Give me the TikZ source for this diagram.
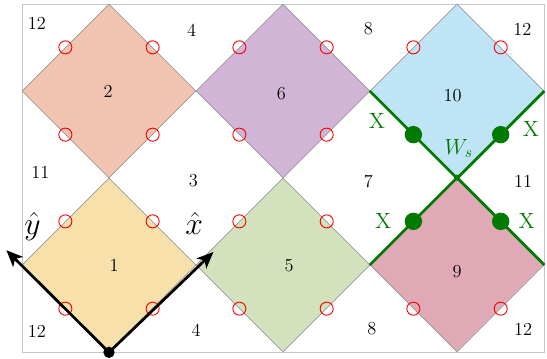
\documentclass[tikz,border=0pt]{standalone}
\usetikzlibrary{shapes.geometric,arrows.meta,calc}
\definecolor{cTwo}{HTML}{F1C3B1}
\definecolor{cSix}{HTML}{D1B5D7}
\definecolor{cTen}{HTML}{BEE4F6}
\definecolor{cOne}{HTML}{F8E0AA}
\definecolor{cFive}{HTML}{D3E1BD}
\definecolor{cNine}{HTML}{DFAAB6}
\definecolor{wgreen}{RGB}{0,122,0}
\begin{document}
\begin{tikzpicture}[x=2cm,y=2cm,
  cell/.style={diamond,aspect=1,draw=gray!80,line width=0.4pt,minimum width=4cm,minimum height=4cm,inner sep=0pt},
  ring/.style={circle,draw=red,line width=0.6pt,minimum size=0.3cm,inner sep=0pt},
  gdot/.style={circle,fill=wgreen,minimum size=0.4cm,inner sep=0pt},
  gsmall/.style={circle,fill=wgreen,minimum size=0.14cm,inner sep=0pt},
  num/.style={font=\fontsize{12}{14}\selectfont,inner sep=0pt},
  glab/.style={text=wgreen,font=\Large,inner sep=0pt},
  hatlab/.style={font=\fontsize{20}{24}\selectfont,inner sep=0pt,anchor=base},
  wline/.style={draw=wgreen,line width=1.8pt,line join=round},
  axis/.style={draw=black,line width=1.8pt,-{Stealth[length=0.38cm,width=0.32cm,inset=0.1cm]}}]
\useasboundingbox (-0.253,-0.069) rectangle (6.034,4.046);
\draw[gray!45,line width=0.6pt] (0,0) rectangle (6,4);
% cells
\node[cell,fill=cTwo]  (d2)  at (1,3) {};
\node[cell,fill=cSix]  (d6)  at (3,3) {};
\node[cell,fill=cTen]  (d10) at (5,3) {};
\node[cell,fill=cOne]  (d1)  at (1,1) {};
\node[cell,fill=cFive] (d5)  at (3,1) {};
\node[cell,fill=cNine] (d9)  at (5,1) {};
% red rings at edge midpoints
\foreach \c in {d2,d6,d1,d5}{
  \node[ring] at ($(\c.north)!0.5!(\c.west)$) {};
  \node[ring] at ($(\c.north)!0.5!(\c.east)$) {};
  \node[ring] at ($(\c.south)!0.5!(\c.west)$) {};
  \node[ring] at ($(\c.south)!0.5!(\c.east)$) {};
}
\node[ring] at ($(d10.north)!0.5!(d10.west)$) {};
\node[ring] at ($(d10.north)!0.5!(d10.east)$) {};
\node[ring] at ($(d9.south)!0.5!(d9.west)$) {};
\node[ring] at ($(d9.south)!0.5!(d9.east)$) {};
% green W_s
\draw[wline] (d10.west) -- (d10.south) -- (d10.east);
\draw[wline] (d9.west) -- (d9.north) -- (d9.east);
\node[gdot] (g1) at ($(d10.west)!0.5!(d10.south)$) {};
\node[gdot] (g2) at ($(d10.east)!0.5!(d10.south)$) {};
\node[gdot] (g3) at ($(d9.west)!0.5!(d9.north)$) {};
\node[gdot] (g4) at ($(d9.east)!0.5!(d9.north)$) {};
\node[gsmall] (gc) at (d9.north) {};
\node[glab] (x1) at (4.08,2.65) {X};
\node[glab] (x2) at (5.85,2.56) {X};
\node[glab] (x3) at (4.15,1.51) {X};
\node[glab] (x4) at (5.80,1.51) {X};
\node[glab] (ws) at (5.02,2.34) {$W_s$};
% axes
\coordinate (o) at (d1.south);
\coordinate (ytip) at (-0.18,1.17);
\coordinate (xtip) at (2.20,1.15);
\draw[axis] (o) -- (ytip);
\draw[axis] (o) -- (xtip);
\node[circle,fill=black,minimum size=0.26cm,inner sep=0pt] (od) at (o) {};
\node[hatlab] (yh) at (0.12,1.35) {$\hat{y}$};
\node[hatlab] (xh) at (1.98,1.35) {$\hat{x}$};
% cell numbers
\node[num] (l2)  at (0.99,3.00) {2};
\node[num] (l6)  at (2.98,2.97) {6};
\node[num] (l10) at (4.95,2.95) {10};
\node[num] (l1)  at (1.06,0.99) {1};
\node[num] (l5)  at (3.07,0.99) {5};
\node[num] (l9)  at (5.00,0.93) {9};
% region numbers
\node[num] (r12a) at (0.17,3.78) {12};
\node[num] (r4a)  at (1.95,3.70) {4};
\node[num] (r8a)  at (3.98,3.72) {8};
\node[num] (r12b) at (5.75,3.71) {12};
\node[num] (r11a) at (0.21,2.06) {11};
\node[num] (r3)   at (1.97,1.97) {3};
\node[num] (r7)   at (3.98,1.96) {7};
\node[num] (r11b) at (5.76,1.96) {11};
\node[num] (r12c) at (0.17,0.24) {12};
\node[num] (r4b)  at (2.00,0.25) {4};
\node[num] (r8b)  at (4.02,0.27) {8};
\node[num] (r12d) at (5.76,0.26) {12};
\end{tikzpicture}
\end{document}
